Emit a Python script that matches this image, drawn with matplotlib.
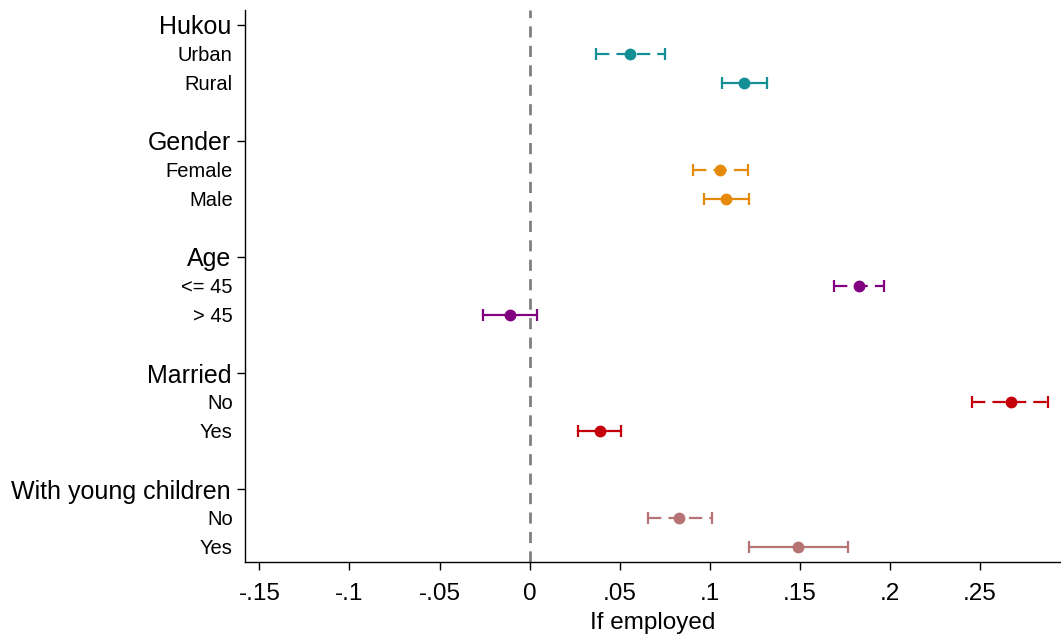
import matplotlib.pyplot as plt

plt.rcParams['font.family'] = ['Liberation Sans', 'DejaVu Sans']

# Groups and the two levels inside each
groups = ['Hukou', 'Gender', 'Age', 'Married', 'With young children']
levels = [['Urban', 'Rural'], ['Female', 'Male'], ['<= 45', '> 45'],
          ['No', 'Yes'], ['No', 'Yes']]
colors = ['#148F96', '#E58A0A', '#800080', '#C4000A', '#B57373']

# Point estimates and 95% confidence bounds (first level, second level)
coef = [[0.0556, 0.119], [0.1056, 0.109], [0.183, -0.011],
        [0.267, 0.039], [0.083, 0.149]]
lower = [[0.037, 0.107], [0.0906, 0.0967], [0.169, -0.0256],
         [0.2456, 0.0267], [0.066, 0.122]]
upper = [[0.075, 0.132], [0.121, 0.122], [0.197, 0.0039],
          [0.288, 0.051], [0.101, 0.177]]

xticks = [-0.15, -0.1, -0.05, 0, 0.05, 0.1, 0.15, 0.2, 0.25]
xticklabels = ['-.15', '-.1', '-.05', '0', '.05', '.1', '.15', '.2', '.25']

fig = plt.figure(figsize=(10.61, 6.37), dpi=100)
ax = fig.add_axes([0.2309, 0.1177, 0.7691, 0.8666])

ax.axvline(0, color='#808080', linestyle=(0, (4, 3)), linewidth=2, zorder=1)

header_pos = []
for g, (name, lv) in enumerate(zip(groups, levels)):
    base = g * 4
    header_pos.append(base)
    for k in range(2):
        y = base + 1 + k
        c = coef[g][k]
        lo, hi = lower[g][k], upper[g][k]
        style = (0, (6, 3.2)) if k == 0 else '-'
        ax.plot([lo, hi], [y, y], color=colors[g], linestyle=style,
                linewidth=1.6, zorder=2)
        ax.plot([lo, hi], [y, y], linestyle='none', marker='|',
                markersize=9, markeredgewidth=1.6, color=colors[g], zorder=2)
        ax.plot(c, y, 'o', color=colors[g], markersize=7.5, zorder=3)
        ax.text(-0.015, y + 0.05, lv[k], transform=ax.get_yaxis_transform(),
                ha='right', va='center', fontsize=14.5)

ax.set_yticks(header_pos)
ax.set_yticklabels(groups, fontsize=18)
ax.tick_params(axis='y', length=6, width=1, pad=4)
ax.set_ylim(18.5, -0.5)

ax.set_xlim(-0.158, 0.295)
ax.set_xticks(xticks)
ax.set_xticklabels(xticklabels, fontsize=17.5)
ax.tick_params(axis='x', length=6, width=1, pad=9)
ax.set_xlabel('If employed', fontsize=17.5, labelpad=5)

for side in ['top', 'right']:
    ax.spines[side].set_visible(False)
for side in ['left', 'bottom']:
    ax.spines[side].set_linewidth(1)

fig.savefig('out.png', dpi=100)
